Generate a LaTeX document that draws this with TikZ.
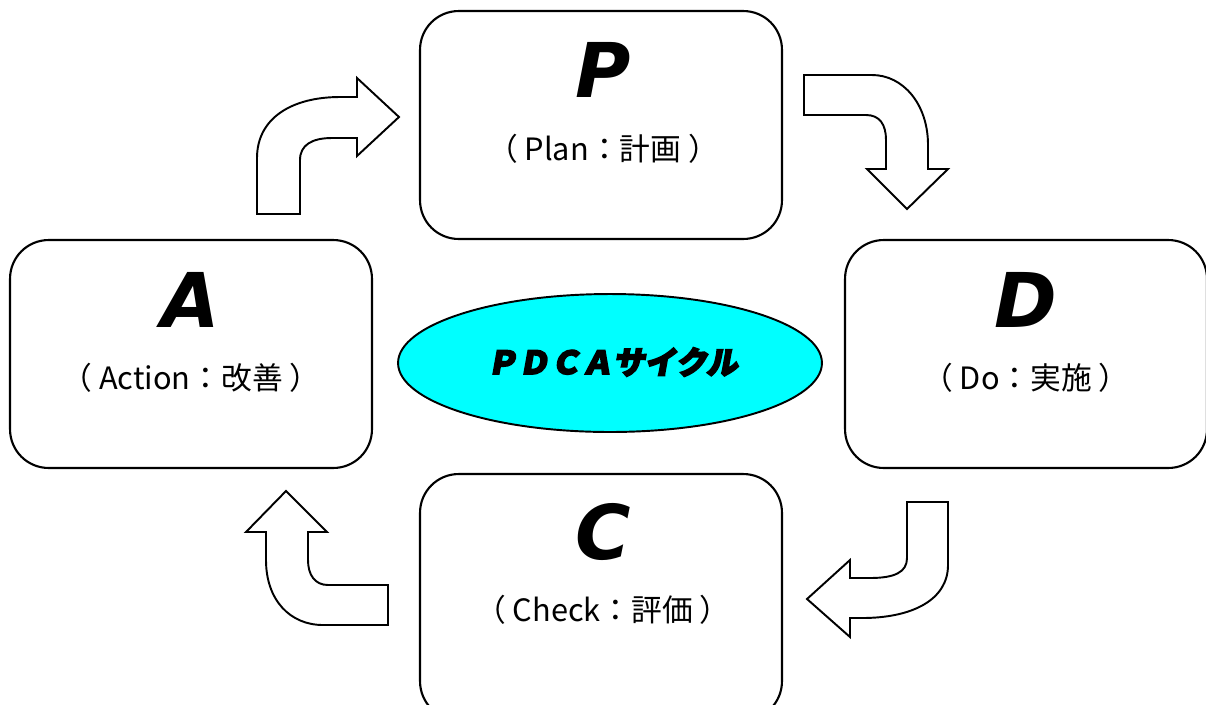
\documentclass[tikz,border=0pt]{standalone}
\usepackage{fontspec}
\setmainfont{Noto Sans CJK JP}
\newfontfamily\bigfont{DejaVu Sans}[BoldFont={DejaVu Sans Bold}]
\newfontfamily\cjk{Noto Sans CJK JP}
\newfontfamily\popfont{Noto Sans CJK JP}[FakeSlant=0.18]
\newcommand{\heavytext}[1]{\special{pdf:literal direct 2 Tr 0.9 w}#1\special{pdf:literal direct 0 Tr}}
\usetikzlibrary{shapes.geometric}
\definecolor{cyanfill}{RGB}{0,255,255}
\begin{document}
\begin{tikzpicture}[x=0.02cm,y=-0.02cm,
  stagebox/.style={draw=black,line width=1.2pt,rounded corners=22pt,fill=white,
    minimum width=7.24cm,minimum height=4.56cm,inner sep=0pt},
  bigletter/.style={font=\bigfont\bfseries\itshape\fontsize{43}{43}\selectfont,inner sep=0pt},
  subtitle/.style={font=\cjk\fontsize{17.5}{17.5}\selectfont,inner sep=0pt},
  bentarrow/.style={draw=black,line width=1.1pt,fill=white,line join=miter}]
\useasboundingbox (0,0) rectangle (1206,704);
% boxes
\node[stagebox] (P) at (601,125) {};
\node[stagebox] (A) at (191,354) {};
\node[stagebox] (D) at (1026,354) {};
\node[stagebox,minimum height=4.92cm] (C) at (601,597) {};
% letters
\node[bigletter] (Pl) at (603,70) {P};
\node[subtitle] (Ps) at (603,149) {（ Plan：計画 ）};
\node[bigletter] (Al) at (191,300) {A};
\node[subtitle] (As) at (191,378) {（ Action：改善 ）};
\node[bigletter] (Dl) at (1026,300) {D};
\node[subtitle] (Ds) at (1026,378) {（ Do：実施 ）};
\node[bigletter] (Cl) at (603,532) {C};
\node[subtitle] (Cs) at (603,610) {（ Check：評価 ）};
% ellipse
\node[ellipse,draw=black,line width=1.1pt,fill=cyanfill,minimum width=8.48cm,minimum height=2.76cm,inner sep=0pt] (E) at (610,363) {};
\node[font=\popfont\bfseries\fontsize{18}{18}\selectfont,inner sep=0pt] (Et) at (612,362) {\heavytext{ＰＤＣＡサイクル}};
% arrow A -> P
\draw[bentarrow] (257,214) -- (257,158) .. controls (257,118) and (292,97) .. (340,97) -- (357,97)
  -- (357,78) -- (399,117) -- (357,156) -- (357,138) -- (332,138)
  .. controls (312,138) and (300,145) .. (300,160) -- (300,214) -- cycle;
% arrow P -> D
\draw[bentarrow] (804,75) -- (872,75) .. controls (903,75) and (928,104) .. (928,145) -- (928,169)
  -- (948,169) -- (907,209) -- (867,169) -- (886,169) -- (886,140)
  .. controls (886,125) and (880,115) .. (866,115) -- (804,115) -- cycle;
% arrow D -> C
\draw[bentarrow] (907,502) -- (948,502) -- (948,565) .. controls (948,600) and (912,618) .. (862,618) -- (850,618)
  -- (850,637) -- (807,599) -- (850,560) -- (850,578) -- (870,578)
  .. controls (895,578) and (907,572) .. (907,558) -- cycle;
% arrow C -> A
\draw[bentarrow] (388,625) -- (323,625) .. controls (290,625) and (266,600) .. (266,560) -- (266,532)
  -- (246,532) -- (286,491) -- (327,532) -- (308,532) -- (308,560)
  .. controls (308,575) and (315,585) .. (328,585) -- (388,585) -- cycle;
\end{tikzpicture}
\end{document}
